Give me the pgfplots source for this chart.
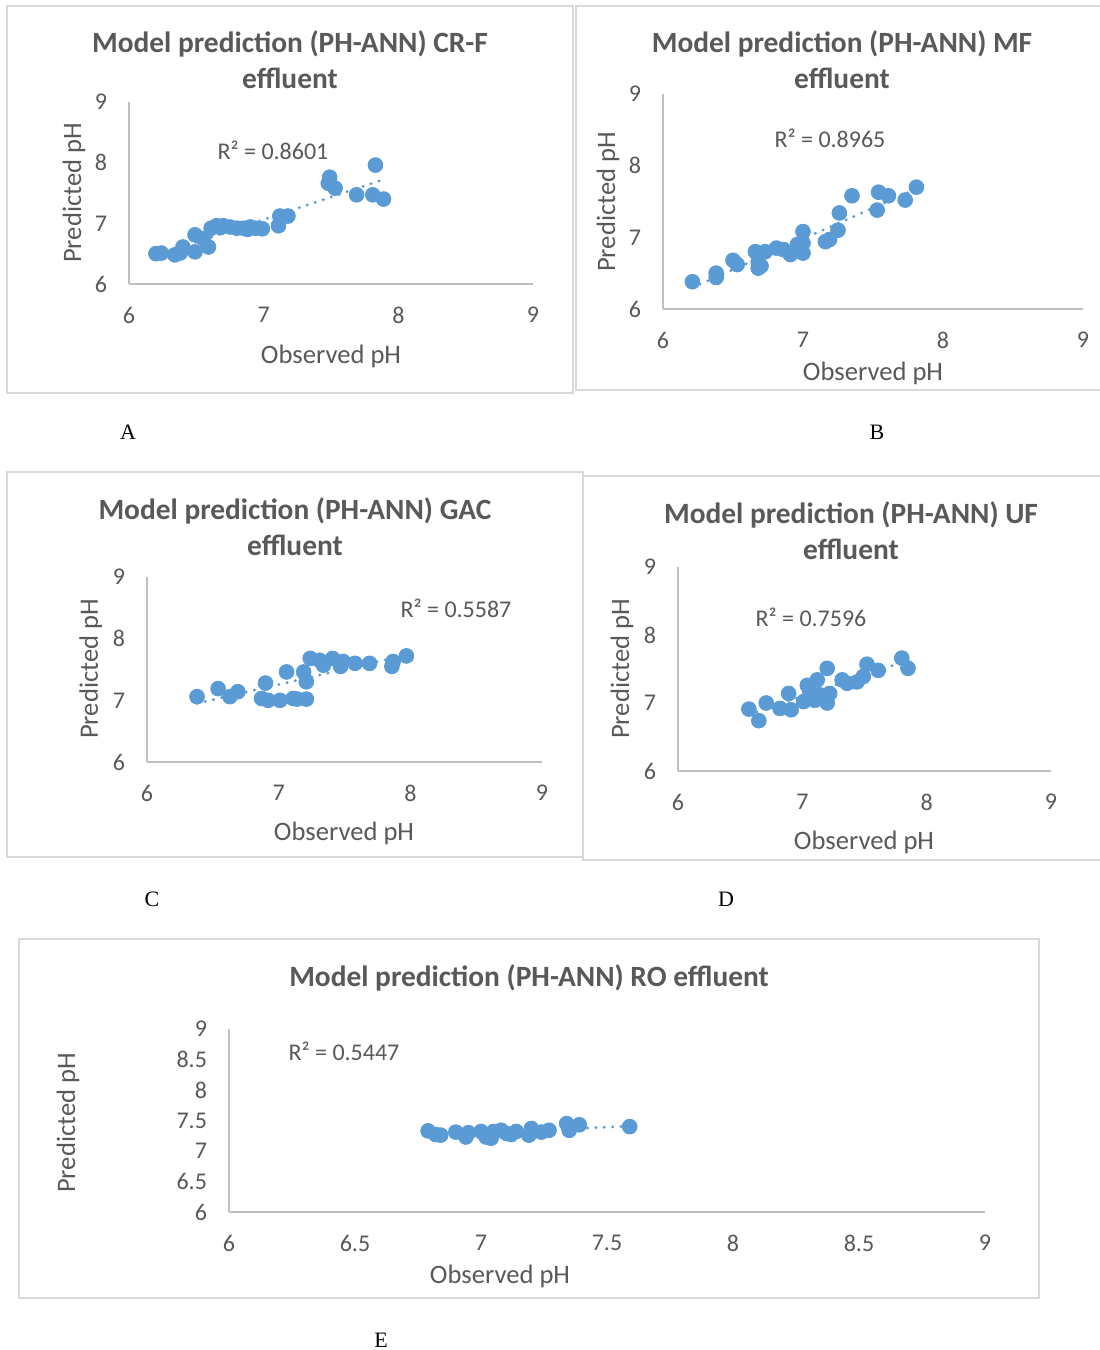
\documentclass[border=0pt]{standalone}
\usepackage{fontspec}
\setmainfont{Carlito}
\newfontfamily\timesfont{Liberation Serif}
\usepackage{pgfplots}
\usepackage{pgfplotstable}
\pgfplotsset{compat=1.18}
\definecolor{txtgray}{HTML}{595959}
\definecolor{ptblue}{HTML}{5B9BD5}
\definecolor{axisgray}{HTML}{BFBFBF}
\definecolor{bordergray}{HTML}{D9D9D9}

\pgfplotstableread{
x y
6.20 6.50
6.24 6.51
6.34 6.48
6.38 6.51
6.40 6.61
6.49 6.53
6.49 6.81
6.55 6.75
6.59 6.61
6.61 6.92
6.65 6.96
6.68 6.93
6.70 6.96
6.75 6.94
6.80 6.92
6.85 6.92
6.88 6.90
6.90 6.94
6.94 6.92
6.99 6.91
7.11 6.96
7.12 7.12
7.18 7.12
7.48 7.66
7.49 7.76
7.53 7.58
7.69 7.47
7.81 7.47
7.83 7.96
7.89 7.40
}\dataA

\pgfplotstableread{
x y
6.21 6.38
6.38 6.44
6.38 6.50
6.50 6.68
6.53 6.62
6.66 6.80
6.68 6.57
6.68 6.66
6.70 6.60
6.73 6.80
6.81 6.85
6.86 6.83
6.91 6.76
6.96 6.90
7.00 6.78
7.00 6.92
7.00 7.08
7.16 6.94
7.19 6.97
7.25 7.10
7.26 7.34
7.35 7.58
7.53 7.38
7.54 7.63
7.61 7.58
7.73 7.52
7.81 7.70
}\dataB

\pgfplotstableread{
x y
6.38 7.06
6.54 7.19
6.63 7.06
6.69 7.14
6.87 7.03
6.90 7.28
6.92 7.00
7.01 7.00
7.06 7.46
7.11 7.03
7.14 7.02
7.19 7.46
7.21 7.02
7.21 7.30
7.24 7.68
7.31 7.65
7.34 7.57
7.41 7.68
7.47 7.55
7.49 7.63
7.58 7.60
7.69 7.60
7.86 7.55
7.87 7.63
7.97 7.72
}\dataC

\pgfplotstableread{
x y
6.57 6.91
6.65 6.74
6.71 7.00
6.82 6.92
6.89 7.14
6.91 6.90
7.01 7.02
7.04 7.26
7.06 7.17
7.10 7.04
7.12 7.34
7.14 7.12
7.20 7.51
7.20 7.00
7.22 7.14
7.32 7.34
7.36 7.29
7.44 7.31
7.49 7.39
7.52 7.57
7.61 7.48
7.80 7.66
7.85 7.51
}\dataD

\pgfplotstableread{
x y
6.79 7.33
6.82 7.27
6.84 7.26
6.90 7.31
6.94 7.23
6.95 7.30
7.00 7.32
7.02 7.23
7.04 7.21
7.05 7.32
7.08 7.34
7.10 7.29
7.12 7.27
7.14 7.32
7.19 7.26
7.20 7.37
7.24 7.31
7.27 7.34
7.34 7.45
7.35 7.34
7.39 7.43
7.59 7.40
}\dataE

\pgfplotsset{
  panel/.style={
    scale only axis, anchor=south west,
    xmin=6, xmax=9, ymin=6, ymax=9,
    axis lines*=left,
    axis line style={draw=axisgray, line width=0.75pt},
    major tick length=0pt, tick style={draw=none},
    tick label style={font=\fontsize{12}{14}\selectfont, text=txtgray},
    /pgf/number format/assume math mode=true,
    xticklabel style={yshift=-8pt},
    yticklabel style={xshift=-7.5pt},
    xtick={6,7,8,9}, ytick={6,7,8,9},
    clip=false,
  },
  pts/.style={only marks, mark=*, mark size=3.7pt, color=ptblue, mark options={draw=ptblue, fill=ptblue}},
  trend/.style={no marks, color=ptblue, line width=1.6pt, dash pattern=on 0pt off 4.2pt, line cap=round},
}

\newcommand{\ttl}{\fontsize{14.7}{18}\selectfont\bfseries\color{txtgray}}
\newcommand{\lbl}{\fontsize{13.3}{16}\selectfont\color{txtgray}}
\newcommand{\rsq}{\fontsize{12}{14}\selectfont\color{txtgray}}
\newcommand{\plbl}{\fontsize{11}{13}\selectfont\timesfont}

\begin{document}
\begin{tikzpicture}[x=0.5pt, y=0.5pt]
\path[use as bounding box, fill=white] (0,0) rectangle (1099,1350);

% panel borders
\draw[bordergray, line width=1pt] (7,1350-6) rectangle (573,1350-393);
\draw[bordergray, line width=1pt] (576,1350-6) rectangle (1105,1350-390);
\draw[bordergray, line width=1pt] (7,1350-472) rectangle (583,1350-857);
\draw[bordergray, line width=1pt] (583,1350-476) rectangle (1105,1350-860);
\draw[bordergray, line width=1pt] (19,1350-939) rectangle (1039,1350-1298);

% Panel A
\begin{axis}[panel, at={(64.5pt,533pt)}, width=202pt, height=91pt]
\addplot[trend] table[x=x, y={create col/linear regression={y=y}}] {\dataA};
\addplot[pts] table[x=x, y=y] {\dataA};
\end{axis}
% Panel B
\begin{axis}[panel, at={(331.5pt,520.5pt)}, width=210pt, height=107.5pt]
\addplot[trend] table[x=x, y={create col/linear regression={y=y}}] {\dataB};
\addplot[pts] table[x=x, y=y] {\dataB};
\end{axis}
% Panel C
\begin{axis}[panel, at={(73.5pt,294pt)}, width=197.5pt, height=92.5pt]
\addplot[trend] table[x=x, y={create col/linear regression={y=y}}] {\dataC};
\addplot[pts] table[x=x, y=y] {\dataC};
\end{axis}
% Panel D
\begin{axis}[panel, at={(339pt,289.5pt)}, width=186.5pt, height=102pt]
\addplot[trend] table[x=x, y={create col/linear regression={y=y}}] {\dataD};
\addplot[pts] table[x=x, y=y] {\dataD};
\end{axis}
% Panel E
\begin{axis}[panel, at={(114.5pt,69pt)}, width=378pt, height=91.5pt,
  xtick={6,6.5,7,7.5,8,8.5,9}, ytick={6,6.5,7,7.5,8,8.5,9}]
\addplot[trend] table[x=x, y={create col/linear regression={y=y}}] {\dataE};
\addplot[pts] table[x=x, y=y] {\dataE};
\end{axis}

% titles
\node[anchor=base] at (290,1350-53) {\ttl Model prediction (PH-ANN) CR-F};
\node[anchor=base] at (290,1350-89) {\ttl effluent};
\node[anchor=base] at (842,1350-53) {\ttl Model prediction (PH-ANN) MF};
\node[anchor=base] at (842,1350-89) {\ttl effluent};
\node[anchor=base] at (295,1350-520) {\ttl Model prediction (PH-ANN) GAC};
\node[anchor=base] at (295,1350-556) {\ttl effluent};
\node[anchor=base] at (851,1350-524) {\ttl Model prediction (PH-ANN) UF};
\node[anchor=base] at (851,1350-560) {\ttl effluent};
\node[anchor=base] at (529,1350-987) {\ttl Model prediction (PH-ANN) RO effluent};

% axis labels
\node[anchor=base] at (331,1350-364) {\lbl Observed pH};
\node[anchor=base, rotate=90] at (81,1350-193) {\lbl Predicted pH};
\node[anchor=base] at (873,1350-381) {\lbl Observed pH};
\node[anchor=base, rotate=90] at (615,1350-202) {\lbl Predicted pH};
\node[anchor=base] at (344,1350-841) {\lbl Observed pH};
\node[anchor=base, rotate=90] at (98,1350-669) {\lbl Predicted pH};
\node[anchor=base] at (864,1350-850) {\lbl Observed pH};
\node[anchor=base, rotate=90] at (629,1350-669) {\lbl Predicted pH};
\node[anchor=base] at (500,1350-1284) {\lbl Observed pH};
\node[anchor=base, rotate=90] at (75,1350-1123) {\lbl Predicted pH};

% R squared
\node[anchor=base] at (273,1350-160) {\rsq R² = 0.8601};
\node[anchor=base] at (830,1350-148) {\rsq R² = 0.8965};
\node[anchor=base] at (456,1350-618) {\rsq R² = 0.5587};
\node[anchor=base] at (811,1350-627) {\rsq R² = 0.7596};
\node[anchor=base] at (344,1350-1061) {\rsq R² = 0.5447};

% panel letters
\node[anchor=base] at (128,1350-440) {\plbl A};
\node[anchor=base] at (877,1350-440) {\plbl B};
\node[anchor=base] at (152,1350-907) {\plbl C};
\node[anchor=base] at (726,1350-907) {\plbl D};
\node[anchor=base] at (381,1350-1347) {\plbl E};
\end{tikzpicture}
\end{document}
